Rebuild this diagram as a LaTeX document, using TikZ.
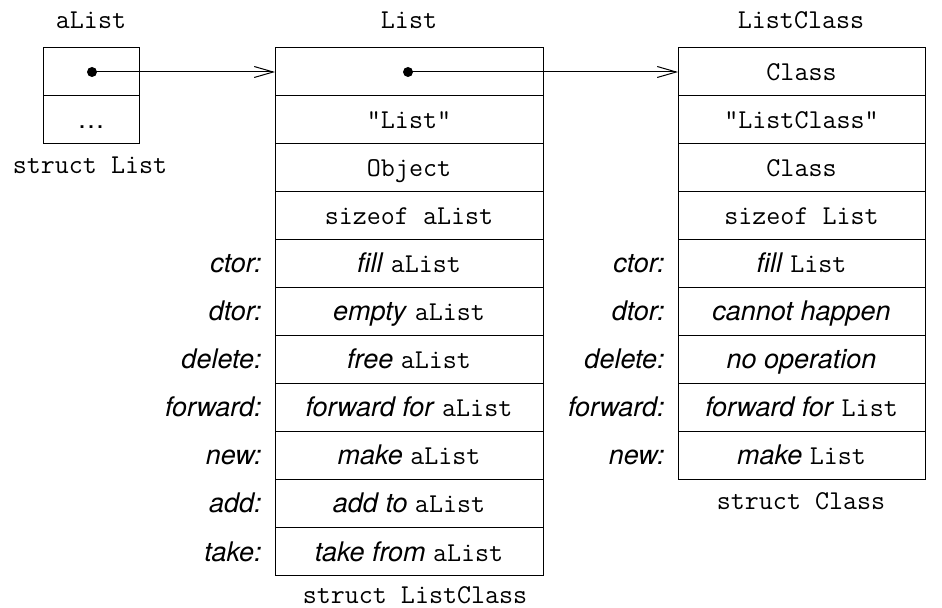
\documentclass[tikz,border=0pt]{standalone}
\usepackage{fontspec}
\setmainfont{TeX Gyre Heros}
\usetikzlibrary{positioning,arrows.meta}

\newcommand{\op}[1]{\textit{#1}}
\newcommand{\code}[1]{{\fontsize{13.6}{15}\ttfamily #1}}

\tikzset{
  cell/.style={draw, rectangle, line width=0.5pt, minimum height=24pt,
               text height=11pt, text depth=2pt,
               inner sep=0pt, outer sep=0pt, font=\fontsize{13.5}{15}\selectfont},
  lab/.style={inner sep=0pt, anchor=east, text height=11pt, text depth=2pt,
              font=\fontsize{13.5}{15}\selectfont\itshape},
  title/.style={inner sep=0pt, font=\fontsize{13.6}{15}\ttfamily},
  ptr/.style={line width=0.5pt, -{Straight Barb[length=9.5pt,width=5.5pt]}},
  dot/.style={fill=black}
}

\begin{document}
\begin{tikzpicture}[x=0.5pt, y=-0.5pt]
            \useasboundingbox (0,0) rectangle (942,608);

            % object aList
            \node[title] (t1) at (91,20) {aList};
            \node[cell, minimum width=48pt] (o1) at (91,72) {};
            \node[cell, minimum width=48pt] (o2) at (91,120) {\dots};
            \node[title] (s1) at (90,165) {struct List};

            % class List
            \node[title] (t2) at (409,20) {List};
            \foreach \txt [count=\i] in {{}, \code{"List"}, \code{Object}, \code{sizeof aList},
                                          \op{fill} \code{aList}, \op{empty} \code{aList},
                                          \op{free} \code{aList}, \op{forward for} \code{aList},
                                          \op{make} \code{aList}, \op{add to} \code{aList},
                                          \op{take from} \code{aList}}
                 \node[cell, minimum width=134pt] (lc\i) at (409,{24+48*\i}) {\txt};
            \foreach \lab [count=\i from 5] in {ctor:, dtor:, delete:, forward:, new:, add:, take:}
                 \node[lab, left=6.5pt of lc\i] (ll\i) {\lab};
            \node[title] (s2) at (415,595) {struct ListClass};

            % metaclass ListClass
            \node[title] (t3) at (801,20) {ListClass};
            \foreach \txt [count=\i] in {\code{Class}, \code{"ListClass"}, \code{Class}, \code{sizeof List},
                                          \op{fill} \code{List}, \op{cannot happen},
                                          \op{no operation}, \op{forward for} \code{List},
                                          \op{make} \code{List}}
                 \node[cell, minimum width=123.5pt] (cc\i) at (801.5,{24+48*\i}) {\txt};
            \foreach \lab [count=\i from 5] in {ctor:, dtor:, delete:, forward:, new:}
                 \node[lab, left=6.5pt of cc\i] (cl\i) {\lab};
            \node[title] (s3) at (801,501) {struct Class};

            % pointers
            \coordinate (p1) at (92,72);
            \coordinate (p2) at (408,72);
            \fill[dot] (p1) circle (2.5pt);
            \fill[dot] (p2) circle (2.5pt);
            \draw[ptr] (p1) -- (lc1.west);
            \draw[ptr] (p2) -- (cc1.west);
\end{tikzpicture}
\end{document}
